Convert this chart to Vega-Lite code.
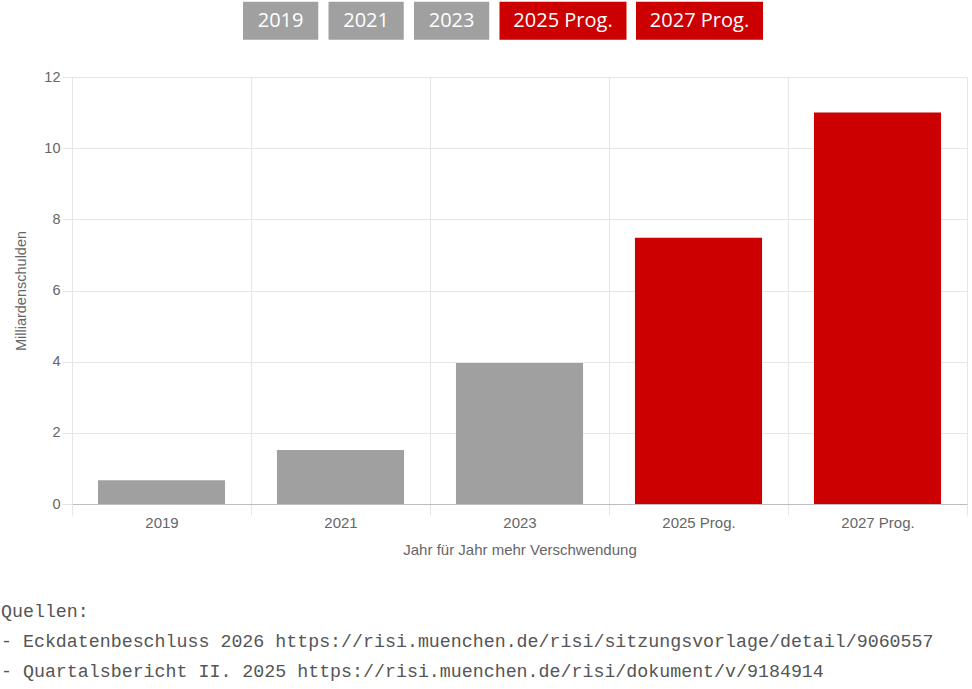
{
  "$schema": "https://vega.github.io/schema/vega-lite/v6.json",
  "width": 895,
  "height": 427,
  "autosize": {"type": "none"},
  "padding": {"left": 72, "top": 77, "right": 5, "bottom": 185},
  "background": "white",
  "config": {"view": {"stroke": null}},
  "title": {
    "text": ["Quellen:", "- Eckdatenbeschluss 2026 https://risi.muenchen.de/risi/sitzungsvorlage/detail/9060557", "- Quartalsbericht II. 2025 https://risi.muenchen.de/risi/dokument/v/9184914"],
    "orient": "bottom",
    "anchor": "start",
    "frame": "group",
    "align": "left",
    "dx": -71,
    "offset": 46,
    "font": "Liberation Mono",
    "fontSize": 18.3,
    "fontWeight": "normal",
    "color": "#555555",
    "lineHeight": 30,
    "baseline": "top"
  },
  "data": {
    "values": [
      {"Jahr": "2019", "Wert": 0.67},
      {"Jahr": "2021", "Wert": 1.52},
      {"Jahr": "2023", "Wert": 3.96},
      {"Jahr": "2025 Prog.", "Wert": 7.48},
      {"Jahr": "2027 Prog.", "Wert": 11.0}
    ]
  },
  "mark": {"type": "bar", "width": {"band": 0.71}},
  "encoding": {
    "x": {
      "field": "Jahr",
      "type": "nominal",
      "sort": null,
      "scale": {"paddingInner": 0, "paddingOuter": 0},
      "axis": {
        "title": "Jahr für Jahr mehr Verschwendung",
        "labelAngle": 0,
        "tickBand": "extent",
        "grid": true,
        "gridColor": "#e6e6e6",
        "tickColor": "#e6e6e6",
        "tickSize": 11,
        "domainColor": "#bdbdbd",
        "labelFont": "Liberation Sans",
        "labelFontSize": 15,
        "labelColor": "#666666",
        "labelPadding": 0,
        "titleFont": "Liberation Sans",
        "titleFontSize": 15,
        "titleFontWeight": "normal",
        "titleColor": "#666666",
        "titlePadding": 12
      }
    },
    "y": {
      "field": "Wert",
      "type": "quantitative",
      "scale": {"domain": [0, 12], "nice": false},
      "axis": {
        "title": "Milliardenschulden",
        "values": [0, 2, 4, 6, 8, 10, 12],
        "grid": true,
        "gridColor": "#e6e6e6",
        "tickColor": "#e6e6e6",
        "tickSize": 10,
        "domainColor": "#e6e6e6",
        "labelFont": "Liberation Sans",
        "labelFontSize": 14.5,
        "labelColor": "#666666",
        "labelPadding": 2,
        "titleFont": "Liberation Sans",
        "titleFontSize": 14.5,
        "titleFontWeight": "normal",
        "titleColor": "#666666",
        "titlePadding": 15
      }
    },
    "color": {
      "field": "Jahr",
      "type": "nominal",
      "sort": null,
      "scale": {
        "domain": ["2019", "2021", "2023", "2025 Prog.", "2027 Prog."],
        "range": ["#a0a0a0", "#a0a0a0", "#a0a0a0", "#cc0000", "#cc0000"]
      },
      "legend": {
        "title": null,
        "orient": "none",
        "legendX": 171,
        "legendY": -120,
        "direction": "horizontal",
        "columnPadding": 9.5,
        "symbolSize": 16129,
        "symbolStrokeWidth": 0,
        "symbolOpacity": 1,
        "labelAlign": "center",
        "labelBaseline": "middle",
        "labelOffset": -63.5,
        "labelFont": "Open Sans",
        "labelFontSize": 20,
        "labelColor": "white",
        "labelLimit": 0,
        "encode": {
          "symbols": {
            "update": {
              "shape": {"signal": "length(datum.label) > 4 ? 'M-1,-0.3H1V0.3H-1Z' : 'M-1,-0.3H0.185V0.3H-1Z'"}
            }
          },
          "labels": {
            "update": {
              "dx": {"signal": "length(datum.label) > 4 ? 0 : -25.9"}
            }
          }
        }
      }
    }
  }
}
